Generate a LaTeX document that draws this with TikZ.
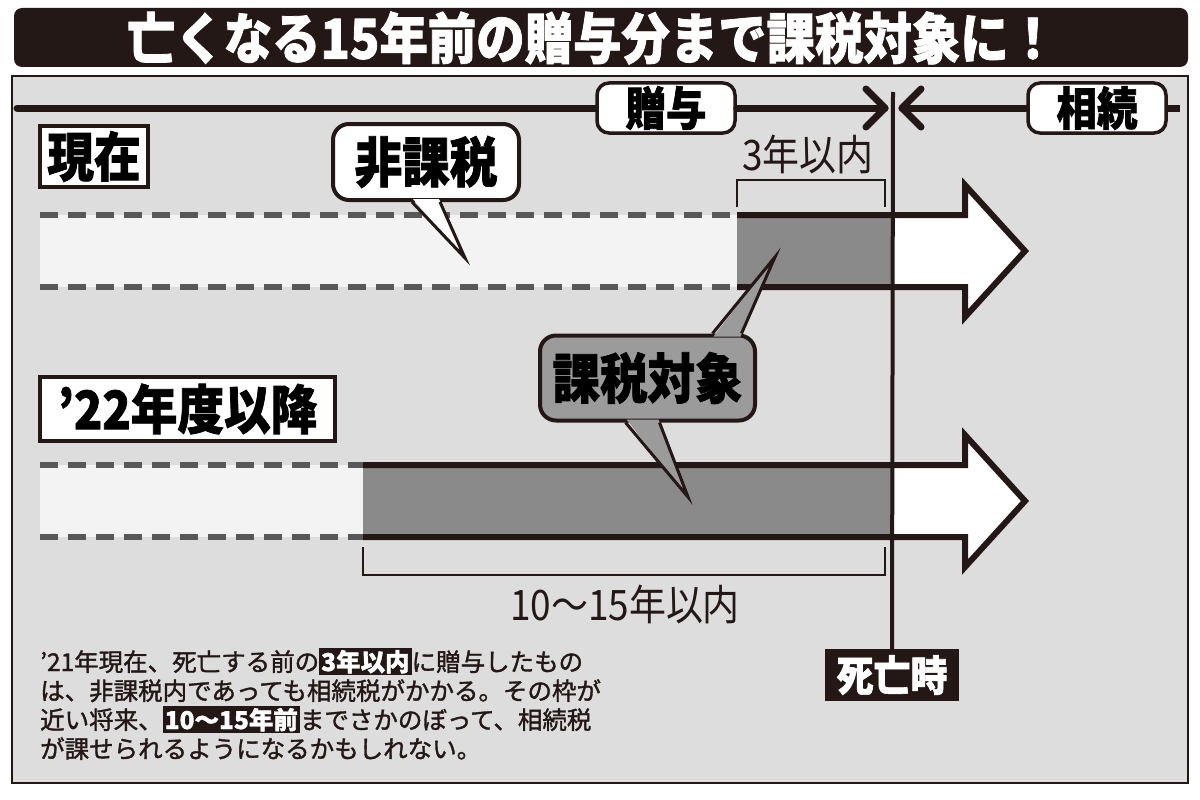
\documentclass[tikz,border=0pt]{standalone}
\usepackage{fontspec}
\setmainfont{Noto Sans CJK JP}
\newfontfamily\jpcond[FakeStretch=0.88]{Noto Sans CJK JP}
\newfontfamily\jpheavy[FakeStretch=0.88,FakeBold=1.4]{Noto Sans CJK JP}
\newfontfamily\jpnote[FakeBold=1.4]{Noto Sans CJK JP}
\usetikzlibrary{calc}

\definecolor{inkblack}{RGB}{35,24,21}
\definecolor{panelgray}{RGB}{221,221,221}
\definecolor{lightbar}{RGB}{243,243,243}
\definecolor{darkbar}{RGB}{138,138,138}
\definecolor{dashgray}{RGB}{88,88,88}
\definecolor{bubblegray}{RGB}{155,155,155}

\newcommand{\titlefnt}{\jpheavy\bfseries\fontsize{55}{60}\selectfont}
\newcommand{\labelfnt}{\jpheavy\bfseries\fontsize{53}{56}\selectfont}
\newcommand{\tagfnt}{\jpheavy\bfseries\fontsize{46}{50}\selectfont}
\newcommand{\bubblefnt}{\jpheavy\bfseries\fontsize{54}{58}\selectfont}
\newcommand{\spanfnt}{\jpcond\fontsize{42}{46}\selectfont}
\newcommand{\deathfnt}{\jpheavy\bfseries\fontsize{42}{46}\selectfont}
\newcommand{\notefnt}{\jpnote\fontsize{24.5}{29}\selectfont}
\newcommand{\inkhl}[1]{{\setlength{\fboxsep}{2pt}\colorbox{inkblack}{\textcolor{white}{\bfseries #1}}}}

\begin{document}
\begin{tikzpicture}[x=1pt,y=-1pt,
    labelbox/.style={draw=inkblack, line width=3.5pt, fill=white, inner sep=0pt, font=\labelfnt},
    tagbox/.style={draw=inkblack, line width=3.5pt, fill=white, rounded corners=12pt, inner sep=0pt,
      minimum width=138pt, minimum height=50pt, font=\tagfnt},
    bubble/.style={draw=inkblack, line width=4pt, rounded corners=16pt, inner sep=0pt, font=\bubblefnt},
    tail/.style={draw=inkblack, line width=3pt},
    axis/.style={draw=inkblack, line width=7pt, line cap=round, line join=round},
    dashline/.style={draw=dashgray, line width=6pt, dash pattern=on 18pt off 10pt},
    barline/.style={draw=inkblack, line width=6pt},
    bracket/.style={draw=inkblack, line width=1.2pt},
    notetext/.style={anchor=base west, inner sep=0pt, font=\notefnt, text=inkblack}]

\useasboundingbox (0,0) rectangle (1200,800);
\fill[white] (0,0) rectangle (1200,800);

% title bar
\fill[inkblack, rounded corners=8pt] (14,8) rectangle (1188,67);
\node[text=white, font=\titlefnt] (title) at (592,38) {亡くなる15年前の贈与分まで課税対象に！};

% panel
\draw[fill=panelgray, draw=inkblack, line width=1.5pt] (12,76) rectangle (1188,783);

% time axis
\node[tagbox] (gift) at (666,108) {贈与};
\node[tagbox] (inherit) at (1097,108) {相続};
\coordinate (giftend) at (885,108);
\coordinate (inheritend) at (902,108);
\draw[axis] (17,108) -- (gift.west);
\draw[axis] (gift.east) -- (giftend);
\draw[axis] ($(giftend)+(-19,-19)$) -- (giftend) -- ($(giftend)+(-19,19)$);
\draw[axis] (inherit.west) -- (inheritend);
\draw[axis] ($(inheritend)+(19,-19)$) -- (inheritend) -- ($(inheritend)+(19,19)$);
\draw[axis, line cap=butt] (inherit.east) -- (1180,108);

% row labels
\node[labelbox, minimum width=108pt, minimum height=61pt] (now) at (94,156.5) {現在};
\node[labelbox, minimum width=295pt, minimum height=64pt] (future) at (187.5,409) {’22年度以降};

% current rule
\fill[lightbar] (40,215) rectangle (737,287);
\fill[darkbar] (737,215) rectangle (893,287);
\fill[white] (893,215) -- (965,215) -- (965,185) -- (1025,251) -- (965,317) -- (965,287) -- (893,287) -- cycle;
\draw[dashline] (40,215) -- (737,215);
\draw[dashline] (40,287) -- (737,287);
\draw[barline] (737,215) -- (965,215) -- (965,185) -- (1025,251) -- (965,317) -- (965,287) -- (737,287);
\draw[bracket] (737,207) -- (737,180) -- (885,180) -- (885,207);
\node[font=\spanfnt, text=inkblack] (span3) at (808,155) {3年以内};

% from 2022
\fill[lightbar] (40,465) rectangle (363,537);
\fill[darkbar] (363,465) rectangle (893,537);
\fill[white] (893,465) -- (965,465) -- (965,435) -- (1025,501) -- (965,567) -- (965,537) -- (893,537) -- cycle;
\draw[dashline] (40,465) -- (363,465);
\draw[dashline] (40,537) -- (363,537);
\draw[barline] (363,465) -- (965,465) -- (965,435) -- (1025,501) -- (965,567) -- (965,537) -- (363,537);
\draw[bracket] (363,547) -- (363,575) -- (885,575) -- (885,547);
\node[font=\spanfnt, text=inkblack] (span15) at (625,605) {10〜15年以内};

% time of death
\node[fill=inkblack, text=white, font=\deathfnt, inner sep=0pt, minimum width=134pt, minimum height=52pt] (death) at (892,675) {死亡時};
\coordinate (deathtop) at (893,92);
\draw[inkblack, line width=4pt] (deathtop) -- (death.north);

% speech bubbles
\node[bubble, fill=white, minimum width=186pt, minimum height=76pt] (nontax) at (426,162) {非課税};
\coordinate (nontaxtip) at (465,258);
\fill[white] ($(nontax.south)+(-13,-3)$) -- (nontaxtip) -- ($(nontax.south)+(13,-3)$) -- cycle;
\draw[tail] ($(nontax.south)+(-14,0)$) -- (nontaxtip) -- ($(nontax.south)+(14,0)$);

\node[bubble, fill=bubblegray, minimum width=215pt, minimum height=85pt] (taxed) at (647.5,378) {課税対象};
\coordinate (taxeduptip) at (775,257);
\coordinate (taxeddowntip) at (688,497);
\fill[bubblegray] ($(taxed.north)+(66,3)$) -- (taxeduptip) -- ($(taxed.north)+(93,3)$) -- cycle;
\draw[tail] ($(taxed.north)+(65,0)$) -- (taxeduptip) -- ($(taxed.north)+(94,0)$);
\fill[bubblegray] ($(taxed.south)+(-21,-3)$) -- (taxeddowntip) -- ($(taxed.south)+(11,-3)$) -- cycle;
\draw[tail] ($(taxed.south)+(-22,0)$) -- (taxeddowntip) -- ($(taxed.south)+(12,0)$);

% note
\node[notetext] (noteA) at (40,671) {’21年現在、死亡する前の\inkhl{3年以内}に贈与したもの};
\node[notetext] (noteB) at (40,700) {は、非課税内であっても相続税がかかる。その枠が};
\node[notetext] (noteC) at (40,729) {近い将来、\inkhl{10〜15年前}までさかのぼって、相続税};
\node[notetext] (noteD) at (40,758) {が課せられるようになるかもしれない。};
\end{tikzpicture}
\end{document}
